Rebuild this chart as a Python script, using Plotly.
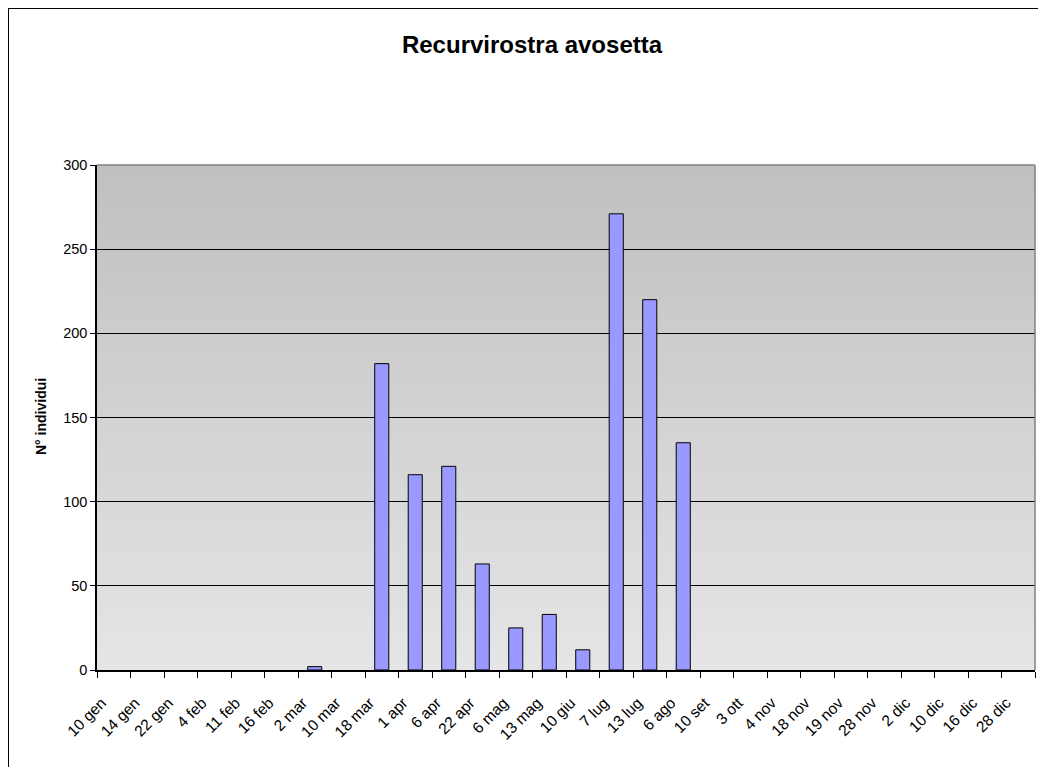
import plotly.graph_objects as go

# conteggi di Recurvirostra avosetta per data di rilievo
date = ["10 gen", "14 gen", "22 gen", "4 feb", "11 feb", "16 feb", "2 mar",
        "10 mar", "18 mar", "1 apr", "6 apr", "22 apr", "6 mag", "13 mag",
        "10 giu", "7 lug", "13 lug", "6 ago", "10 set", "3 ott", "4 nov",
        "18 nov", "19 nov", "28 nov", "2 dic", "10 dic", "16 dic", "28 dic"]
individui = [0, 0, 0, 0, 0, 0, 2, 0, 182, 116, 121, 63, 25, 33, 12, 271,
             220, 135, 0, 0, 0, 0, 0, 0, 0, 0, 0, 0]
y_ticks = [0, 50, 100, 150, 200, 250, 300]

W, H = 1046, 767
OFF = 8  # margine del body della pagina html
ML, MR, MT, MB = 97 - OFF, 11 + OFF, 165 - OFF, 97 + OFF
PW = W - ML - MR
PH = H - MT - MB
FONT = "Liberation Sans, Arial, sans-serif"


def px_x(p):
    # coordinata orizzontale della pagina -> paper
    return (p - OFF - ML) / PW


def px_y(p):
    # coordinata verticale della pagina -> paper
    return (H - MB - (p - OFF)) / PH


fig = go.Figure()
fig.add_trace(go.Bar(
    x=date,
    y=individui,
    width=0.42,
    marker=dict(color="#9999FF",
                line=dict(color="black", width=[1 if v > 0 else 0 for v in individui])),
    showlegend=False,
))

# sfondo sfumato dell'area del grafico (grigio scuro in alto, chiaro in basso)
shapes = []
n_bands = 80
top, bottom = (192, 192, 192), (229, 229, 229)
for i in range(n_bands):
    t = i / (n_bands - 1)
    c = tuple(round(bottom[k] + (top[k] - bottom[k]) * t) for k in range(3))
    shapes.append(dict(
        type="rect", xref="x domain", yref="y domain",
        x0=0, x1=1, y0=i / n_bands, y1=1,
        fillcolor="rgb(%d,%d,%d)" % c, line=dict(width=0), layer="below",
    ))

# bordo grigio superiore e destro dell'area del grafico
shapes.append(dict(type="line", xref="x domain", yref="y domain",
                   x0=0, x1=1, y0=1, y1=1, line=dict(color="#808080", width=1.5)))
shapes.append(dict(type="line", xref="x domain", yref="y domain",
                   x0=1, x1=1, y0=0, y1=1, line=dict(color="#808080", width=1.5)))

# cornice esterna del grafico
shapes.append(dict(type="rect", xref="paper", yref="paper",
                   x0=px_x(OFF), x1=px_x(W + 30),
                   y0=px_y(H + 30), y1=px_y(OFF),
                   line=dict(color="black", width=2), fillcolor="rgba(0,0,0,0)",
                   layer="below"))

fig.update_layout(
    width=W,
    height=H,
    margin=dict(l=ML, r=MR, t=MT, b=MB),
    paper_bgcolor="white",
    plot_bgcolor="rgba(0,0,0,0)",
    font=dict(family=FONT, color="black", size=14),
    title=dict(text="<b>Recurvirostra avosetta</b>", x=(532 - OFF) / W, xanchor="center",
               xref="container", y=1 - (45 - OFF) / H, yref="container", yanchor="middle",
               font=dict(size=24, family=FONT, color="black")),
    shapes=shapes,
    bargap=0.58,
    annotations=[dict(text="<b>N° individui</b>", textangle=-90,
                      xref="paper", yref="paper", x=px_x(41), y=px_y(417),
                      xanchor="center", yanchor="middle", showarrow=False,
                      font=dict(size=14, family=FONT, color="black"))],
)

fig.update_xaxes(
    type="category",
    tickangle=-45,
    tickson="boundaries",
    ticks="outside",
    ticklen=6,
    tickcolor="black",
    showline=True,
    linecolor="black",
    linewidth=1.5,
    showgrid=False,
    tickfont=dict(size=15.5),
    ticklabelshift=-12,
    ticklabelstandoff=16,
)
fig.update_yaxes(
    range=[0, 300],
    tickvals=y_ticks,
    ticks="outside",
    ticklen=5,
    tickcolor="black",
    showline=True,
    linecolor="black",
    linewidth=1.5,
    showgrid=True,
    gridcolor="black",
    gridwidth=1,
    zeroline=False,
    tickfont=dict(size=14.5),
)

fig.write_html("out.html")
